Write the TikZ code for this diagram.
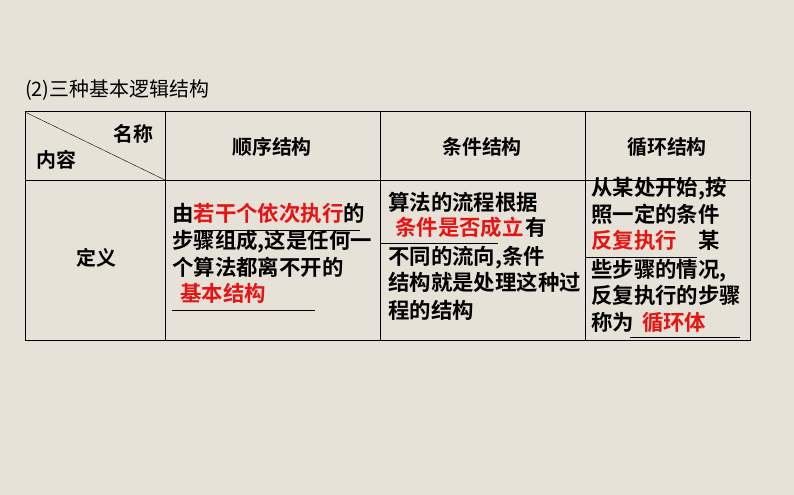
\documentclass[tikz,border=0pt]{standalone}
\usepackage{fontspec}
\setmainfont{Noto Sans CJK SC}[BoldFont={Noto Sans CJK SC Bold}]
\definecolor{bg}{RGB}{231,226,216}
\definecolor{rd}{RGB}{230,20,20}
\begin{document}
\begin{tikzpicture}[x=1bp,y=-1bp,
  txt/.style={anchor=base west,inner sep=0,font=\fontsize{21.5}{22}\selectfont\bfseries},
  hd/.style={inner sep=0,font=\fontsize{20}{22}\selectfont\bfseries},
  ul/.style={line width=0.8pt}]
\fill[bg] (0,0) rectangle (794,495);
\useasboundingbox (0,0) rectangle (794,495);
\node[anchor=base west,inner sep=0,font=\fontsize{20}{22}\selectfont] (title) at (25,97) {(2)三种基本逻辑结构};
\draw[line width=1pt] (25,112) rectangle (750,340);
\draw (25,180) -- (750,180);
\draw (165,112) -- (165,340) (380,112) -- (380,340) (585,112) -- (585,340);
\draw (25,112) -- (165,180);
\node[hd] (mc) at (133,134) {名称};
\node[hd] (nr) at (56,160) {内容};
\node[hd] (h1) at (272,147) {顺序结构};
\node[hd] (h2) at (482,147) {条件结构};
\node[hd] (h3) at (667,147) {循环结构};
\node[hd] (dy) at (96,258) {定义};
% cell 1
\node[txt] (a1) at (172,222) {由\textcolor{rd}{若干个依次执行}的};
\node[txt] (a2) at (172,249) {步骤组成,这是任何一};
\node[txt] (a3) at (172,276) {个算法都离不开的};
\node[txt] (a4) at (180,302) {\textcolor{rd}{基本结构}};
\draw[ul] (195,230) -- (360,230);
\draw[ul] (172,310) -- (315,310);
% cell 2
\node[txt] (b1) at (388,211) {算法的流程根据};
\node[txt] (b2) at (395,236) {\textcolor{rd}{条件是否成立}\hspace{2bp}有};
\node[txt] (b3) at (388,265) {不同的流向,条件};
\node[txt] (b4) at (388,291) {结构就是处理这种过};
\node[txt] (b5) at (388,318) {程的结构};
\draw[ul] (380,243) -- (498,243);
% cell 3
\node[txt] (c1) at (591,196) {从某处开始,按};
\node[txt] (c2) at (591,223) {照一定的条件};
\node[txt] (c3) at (591,249) {\textcolor{rd}{反复执行}\hspace{22bp}某};
\node[txt] (c4) at (591,278) {些步骤的情况,};
\node[txt] (c5) at (591,304) {反复执行的步骤};
\node[txt] (c6) at (591,330) {称为\hspace{8bp}\textcolor{rd}{循环体}};
\draw[ul] (585,257) -- (697,257);
\draw[ul] (630,337) -- (740,337);
\end{tikzpicture}
\end{document}
